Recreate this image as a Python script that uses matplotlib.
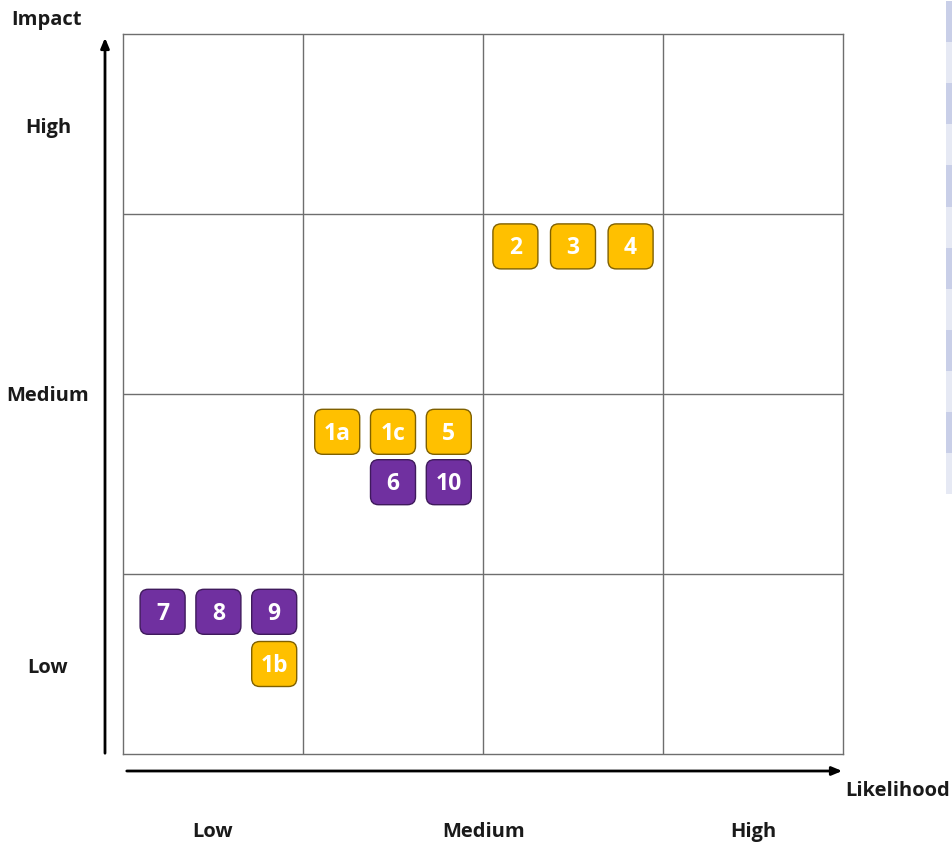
import matplotlib
matplotlib.use("Agg")
import matplotlib.pyplot as plt
from matplotlib.patches import FancyBboxPatch, Rectangle

#//==\\--//==\\--//==\\--//==\\--//==\\--//==\\--//==\\--//==\\--//==\\--//==\\#
# risk items : label, likelihood position, impact position (grid units 0..4)
risk_labels = ['2', '3', '4', '1a', '1c', '5', '6', '10', '7', '8', '9', '1b']
risk_x      = [2.18, 2.50, 2.82, 1.19, 1.50, 1.81, 1.50, 1.81, 0.22, 0.53, 0.84, 0.84]
risk_y      = [2.82, 2.82, 2.82, 1.79, 1.79, 1.79, 1.51, 1.51, 0.79, 0.79, 0.79, 0.50]
risk_group  = ['y', 'y', 'y', 'y', 'y', 'y', 'p', 'p', 'p', 'p', 'p', 'y']

impact_labels     = ['High', 'Medium', 'Low']
likelihood_labels = ['Low', 'Medium', 'High']

colors = {'y': ('#FFC000', '#7F6000'), 'p': ('#7030A0', '#3F1A5C')}

W, H = 953, 845
FONT = ['Open Sans', 'DejaVu Sans']

#//==\\--//==\\--//==\\--//==\\--//==\\--//==\\--//==\\--//==\\--//==\\--//==\\#
fig = plt.figure(figsize=(W/100, H/100), dpi=100)
fig.patch.set_facecolor('white')

# background axes in pixel coordinates (arrows, labels)
bg = fig.add_axes([0, 0, 1, 1])
bg.set_xlim(0, W)
bg.set_ylim(H, 0)
bg.axis('off')

# cropped table stripes at the right border
for k in range(12):
    c = '#C9CFE8' if k % 2 == 0 else '#E6E9F4'
    bg.add_patch(Rectangle((946, 2 + k*41.1), 10, 41.1, color=c, lw=0))

# main grid
ax = fig.add_axes([123/W, (H-755)/H, 720/W, 720/H])
ax.set_xlim(0, 4)
ax.set_ylim(0, 4)
ax.set_xticks([])
ax.set_yticks([])
for v in [1, 2, 3]:
    ax.axvline(v, color='#6E6E6E', lw=1.0)
    ax.axhline(v, color='#6E6E6E', lw=1.0)
for s in ax.spines.values():
    s.set_color('#6E6E6E')
    s.set_linewidth(1.0)

bw, bh = 0.25, 0.25
for lab, x, y, g in zip(risk_labels, risk_x, risk_y, risk_group):
    fc, ec = colors[g]
    ax.add_patch(FancyBboxPatch((x - bw/2, y - bh/2), bw, bh,
                                boxstyle="round,pad=0,rounding_size=0.045",
                                fc=fc, ec=ec, lw=1.0, zorder=3))
    ax.text(x, y - 0.005, lab, ha='center', va='center', color='white',
            fontsize=16.5, fontweight='bold', family=FONT, zorder=4)

# axes arrows
bg.annotate('', xy=(105, 36), xytext=(105, 757),
            arrowprops=dict(arrowstyle='-|>,head_length=0.6,head_width=0.25',
                            color='black', lw=2))
bg.annotate('', xy=(845, 772), xytext=(124, 772),
            arrowprops=dict(arrowstyle='-|>,head_length=0.6,head_width=0.25',
                            color='black', lw=2))

# labels
txt = dict(fontsize=14.5, fontweight='bold', family=FONT, color='#1A1A1A',
           ha='center', va='center')
bg.text(47, 20, 'Impact', **txt)
for lab, py in zip(impact_labels, [128, 396, 668]):
    bg.text(48, py, lab, **txt)
for lab, px in zip(likelihood_labels, [213, 484, 753]):
    bg.text(px, 832, lab, **txt)
bg.text(898, 791, 'Likelihood', **txt)

fig.savefig('out.png', dpi=100)
